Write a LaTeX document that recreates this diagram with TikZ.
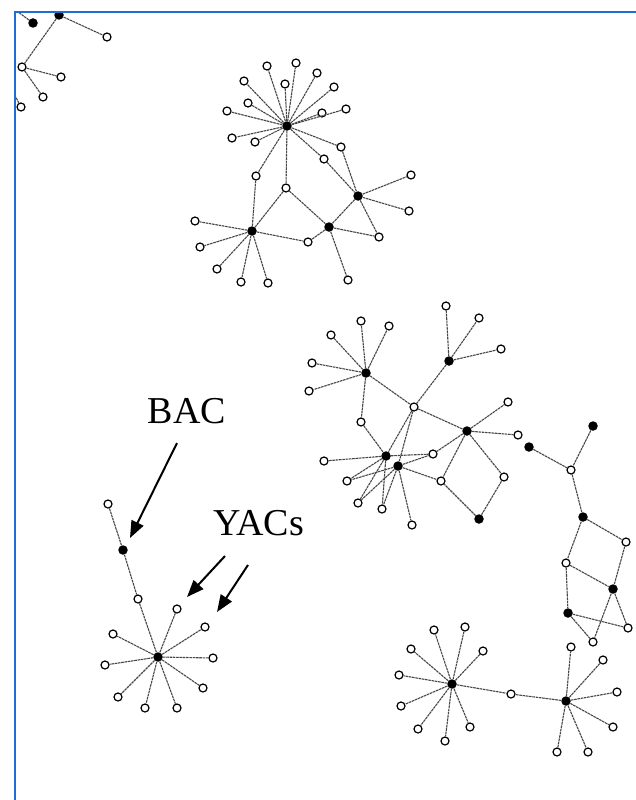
\documentclass[tikz,border=0pt]{standalone}
\usepackage{fontspec}
\setmainfont{Liberation Serif}
\usetikzlibrary{arrows.meta}
\definecolor{frameblue}{RGB}{30,110,215}
\begin{document}
\begin{tikzpicture}[x=1pt,y=-1pt,
  op/.style={circle,draw=black,fill=white,line width=1.2pt,inner sep=0pt,minimum size=8pt},
  bl/.style={circle,fill=black,inner sep=0pt,minimum size=9.5pt},
  edge/.style={draw=black!72,line width=1.1pt,dash pattern=on 2.6pt off 0.7pt},
  bigarrow/.style={line width=2pt,-{Triangle[length=17pt,width=13pt]}},
  lbl/.style={font=\fontsize{38}{40}\selectfont,inner sep=0pt}]
\useasboundingbox (0,0) rectangle (635,800);
\fill[white] (0,0) rectangle (635,800);

\begin{scope}
\clip (16,13) rectangle (636,801);

% ---------- fragment cut by the top-left corner ----------
\node[bl] (a1) at (33,23) {};
\node[bl] (a2) at (59,15) {};
\foreach \n/\px/\py in {a3/107/37,a4/22/67,a5/61/77,a6/43/97,a7/21/107}
  \node[op] (\n) at (\px,\py) {};
\coordinate (a1x) at (10,6);
\coordinate (a2x) at (48,3);
\coordinate (a2y) at (74,5);
\coordinate (a7x) at (12,90);
\foreach \u/\v in {a2/a3,a2/a4,a4/a5,a4/a6,a1/a1x,a2/a2x,a2/a2y,a7/a7x}
  \draw[edge] (\u) -- (\v);

% ---------- upper star cluster ----------
\node[bl] (b0) at (287,126) {};
\node[bl] (bB2) at (252,231) {};
\node[bl] (bB3) at (358,196) {};
\node[bl] (bB4) at (329,227) {};
\foreach \n/\px/\py in {b1/267/66,b2/296/63,b3/317/73,b4/285/84,b5/244/81,
  b6/334/87,b7/248/103,b8/227/111,b9/322/113,b10/346/109,b11/232/138,
  b12/255/142,b13/341/147,b14/324/159,b15/256/176,b16/286/188,
  b17/411/175,b18/409/211,b19/379/237,b20/308/242,b21/348/280,
  b22/195/221,b23/200/247,b24/217/269,b25/241/282,b26/268/283}
  \node[op] (\n) at (\px,\py) {};
\foreach \n in {b1,b2,b3,b4,b5,b6,b7,b8,b9,b10,b11,b12,b13,b14,b15,b16}
  \draw[edge] (b0) -- (\n);
\foreach \u/\v in {b13/bB3,b14/bB3,b15/bB2,b16/bB2,b16/bB4,bB3/bB4,
  bB3/b17,bB3/b18,bB3/b19,bB4/b19,bB4/b20,bB4/b21,bB2/b20,
  bB2/b22,bB2/b23,bB2/b24,bB2/b25,bB2/b26}
  \draw[edge] (\u) -- (\v);

% ---------- middle cluster ----------
\node[bl] (c1) at (366,373) {};
\node[bl] (c2) at (449,361) {};
\node[bl] (c3) at (467,431) {};
\node[bl] (c4) at (479,519) {};
\node[bl] (d1) at (386,456) {};
\node[bl] (d2) at (398,466) {};
\foreach \n/\px/\py in {c11/361/321,c12/389/326,c13/331/335,c14/312/363,c15/309/391,
  c21/446/306,c22/479/318,c23/501/349,co/414/407,cm/361/422,
  c31/508/402,c32/518/435,c33/504/477,
  e1/324/461,e2/347/481,e3/358/503,e4/382/509,e5/412/525,e6/433/454,e7/441/481}
  \node[op] (\n) at (\px,\py) {};
\foreach \u/\v in {c1/c11,c1/c12,c1/c13,c1/c14,c1/c15,c2/c21,c2/c22,c2/c23,
  c1/co,c2/co,c3/co,co/d1,co/d2,c1/cm,cm/d1,
  c3/c31,c3/c32,c3/c33,c3/e6,c3/e7,c4/e7,c4/c33,
  d1/e1,d1/e2,d1/e3,d1/e4,d1/e6,d2/e2,d2/e3,d2/e4,d2/e5,d2/e6,d2/e7}
  \draw[edge] (\u) -- (\v);

% ---------- right-hand chain ----------
\node[bl] (f1) at (529,447) {};
\node[bl] (f2) at (593,426) {};
\node[bl] (f3) at (583,517) {};
\node[bl] (f4) at (613,589) {};
\node[bl] (f5) at (568,613) {};
\foreach \n/\px/\py in {g0/571/470,g1/626/542,g2/566/563,g3/628/628,g4/593/642}
  \node[op] (\n) at (\px,\py) {};
\foreach \u/\v in {f1/g0,f2/g0,g0/f3,f3/g1,f3/g2,g1/f4,g2/f4,g2/f5,
  f4/g3,f4/g4,f5/g3,f5/g4}
  \draw[edge] (\u) -- (\v);

% ---------- lower-right double star ----------
\node[bl] (h1) at (452,684) {};
\node[bl] (h2) at (566,701) {};
\node[op] (hm) at (511,694) {};
\foreach \n/\px/\py in {h11/434/630,h12/465/627,h13/411/649,h14/483/651,h15/399/675,
  h16/401/706,h17/418/729,h18/445/741,h19/470/727,
  h21/571/647,h22/603/660,h23/617/692,h24/613/727,h25/557/752,h26/588/752}
  \node[op] (\n) at (\px,\py) {};
\foreach \n in {h11,h12,h13,h14,h15,h16,h17,h18,h19,hm}
  \draw[edge] (h1) -- (\n);
\foreach \n in {h21,h22,h23,h24,h25,h26,hm}
  \draw[edge] (h2) -- (\n);

% ---------- lower-left star with its chain ----------
\node[op] (k0) at (108,504) {};
\node[bl] (kB) at (123,550) {};
\node[op] (k1) at (138,599) {};
\node[bl] (kh) at (158,657) {};
\foreach \n/\px/\py in {k2/177/609,k3/205/627,k4/113/634,k5/213/658,k6/105/665,
  k7/203/688,k8/118/697,k9/145/708,k10/177/708}
  \node[op] (\n) at (\px,\py) {};
\foreach \u/\v in {k0/kB,kB/k1,k1/kh}
  \draw[edge] (\u) -- (\v);
\foreach \n in {k2,k3,k4,k5,k6,k7,k8,k9,k10}
  \draw[edge] (kh) -- (\n);
\end{scope}

% ---------- labels and pointers ----------
\node[lbl] (bac) at (187,411) {BAC};
\node[lbl,anchor=west] (yacs) at (213,523) {YACs};
\coordinate (bacTail) at (177,443);
\coordinate (bacTip) at (130,538);
\coordinate (yacTailA) at (225,556);
\coordinate (yacTipA) at (187,597);
\coordinate (yacTailB) at (248,565);
\coordinate (yacTipB) at (217,612);
\draw[bigarrow] (bacTail) -- (bacTip);
\draw[bigarrow] (yacTailA) -- (yacTipA);
\draw[bigarrow] (yacTailB) -- (yacTipB);

% ---------- frame ----------
\draw[frameblue,line width=2.2pt] (15,801) -- (15,12) -- (636,12);
\end{tikzpicture}
\end{document}
